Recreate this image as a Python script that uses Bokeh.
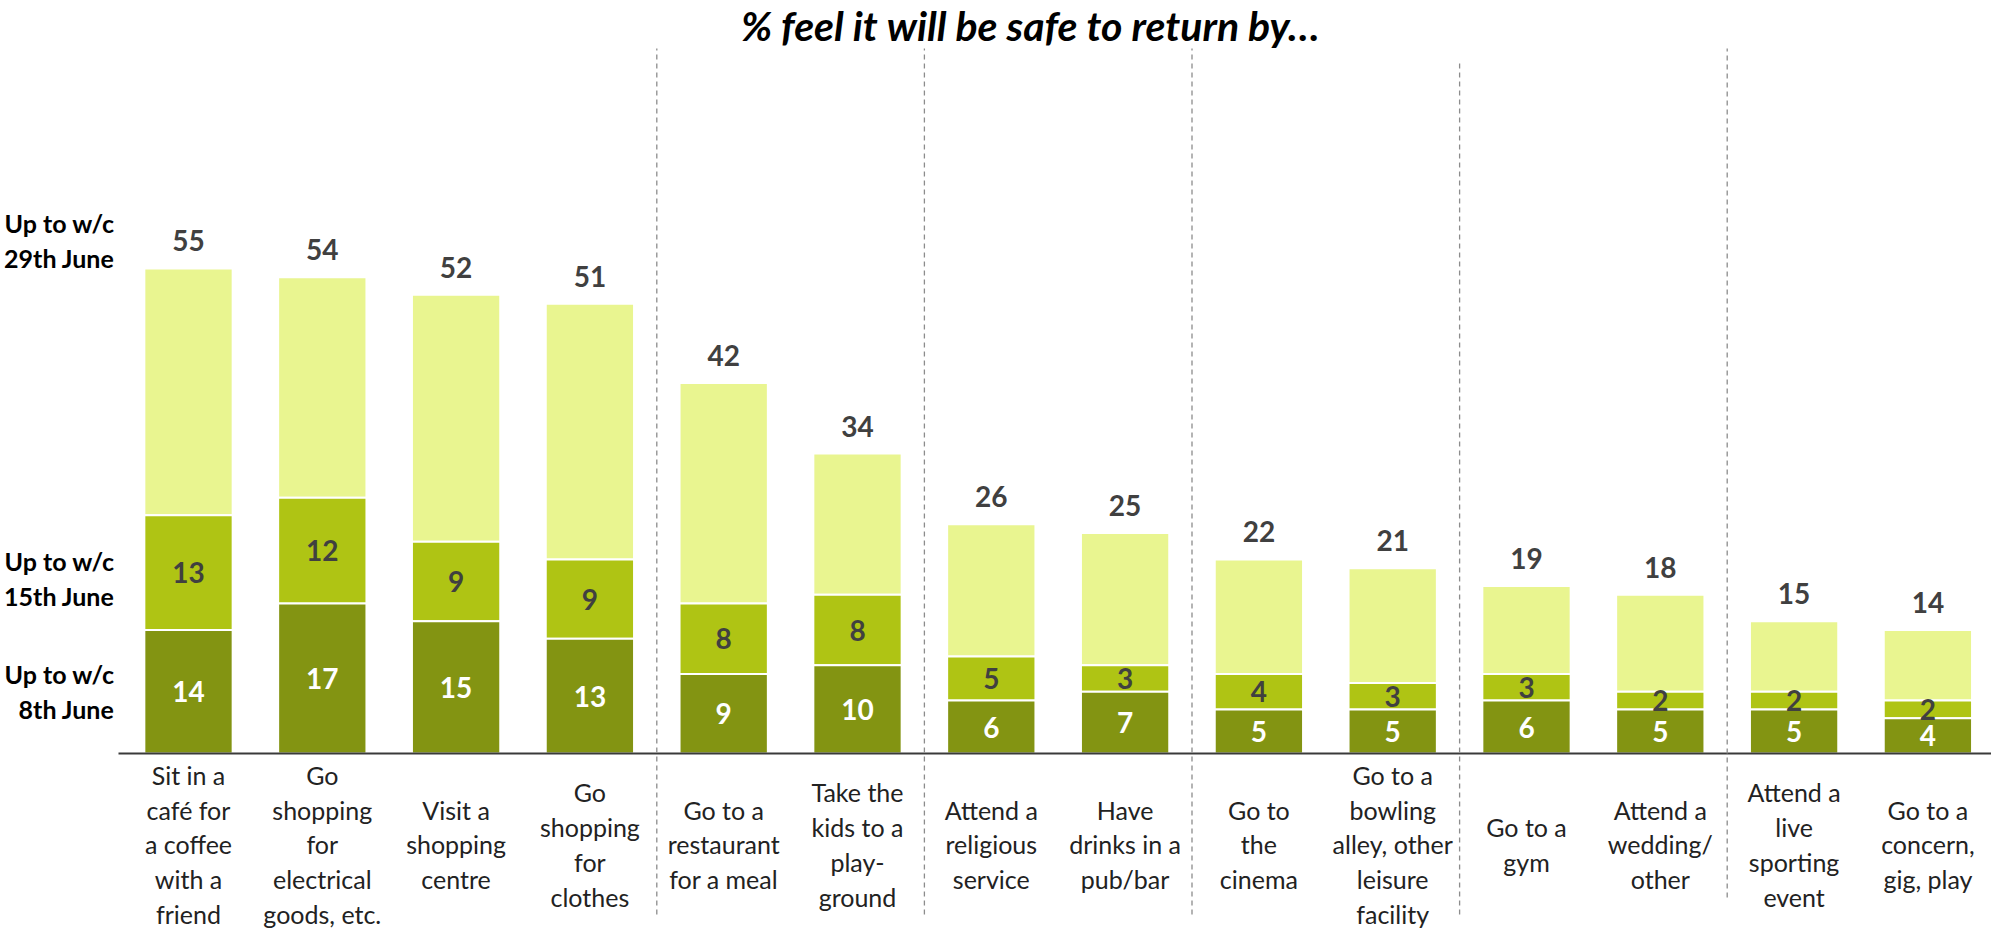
from bokeh.plotting import figure
from bokeh.models import ColumnDataSource, Range1d
from bokeh.core.properties import value
from bokeh.embed import file_html
from bokeh.resources import INLINE

# ---------------- data ----------------
categories = [
    "Sit in a\ncafé for\na coffee\nwith a\nfriend",
    "Go\nshopping\nfor\nelectrical\ngoods, etc.",
    "Visit a\nshopping\ncentre",
    "Go\nshopping\nfor\nclothes",
    "Go to a\nrestaurant\nfor a meal",
    "Take the\nkids to a\nplay-\nground",
    "Attend a\nreligious\nservice",
    "Have\ndrinks in a\npub/bar",
    "Go to\nthe\ncinema",
    "Go to a\nbowling\nalley, other\nleisure\nfacility",
    "Go to a\ngym",
    "Attend a\nwedding/\nother",
    "Attend a\nlive\nsporting\nevent",
    "Go to a\nconcern,\ngig, play",
]
wc_8th_june = [14, 17, 15, 13, 9, 10, 6, 7, 5, 5, 6, 5, 5, 4]
wc_15th_june_added = [13, 12, 9, 9, 8, 8, 5, 3, 4, 3, 3, 2, 2, 2]
wc_29th_june_total = [55, 54, 52, 51, 42, 34, 26, 25, 22, 21, 19, 18, 15, 14]
group_boundaries = [3.5, 5.5, 7.5, 9.5, 11.5]
row_labels = ["Up to w/c\n29th June", "Up to w/c\n15th June", "Up to w/c\n8th June"]
title_text = "% feel it will be safe to return by…"

# ---------------- layout constants ----------------
W, H = 1991, 930
X0_PX, STEP_PX = 188.0, 133.8      # centre of first bar, spacing per category
Y0_PX, UNIT_PX = 753.0, 8.82       # baseline pixel, pixels per percentage point

def ypx(px):
    return (Y0_PX - px) / UNIT_PX

def xpx(px):
    return (px - X0_PX) / STEP_PX

DARK, MID, LIGHT = "#839412", "#AFC414", "#E9F590"
FONT = "Lato"

n = len(categories)
xs = list(range(n))
top1 = wc_8th_june
top2 = [a + b for a, b in zip(wc_8th_june, wc_15th_june_added)]

src = ColumnDataSource(dict(
    x=xs, b0=[0] * n, t1=top1, t2=top2, t3=wc_29th_june_total,
    m1=[t / 2 for t in top1],
    m2=[(a + b) / 2 for a, b in zip(top1, top2)],
    l1=[str(v) for v in wc_8th_june],
    l2=[str(v) for v in wc_15th_june_added],
    l3=[str(v) for v in wc_29th_june_total],
    cat=categories,
))

p = figure(width=W, height=H, output_backend="svg", toolbar_location=None,
           x_range=Range1d(xpx(0), xpx(W)), y_range=Range1d(ypx(H), ypx(0)),
           x_axis_type=None, y_axis_type=None, min_border=0)
p.outline_line_color = None
p.xgrid.visible = False
p.ygrid.visible = False
p.background_fill_color = "white"

BW = 0.66
p.vbar(x="x", bottom="t2", top="t3", width=BW, source=src,
       fill_color=LIGHT, line_color="white", line_width=2)
p.vbar(x="x", bottom="t1", top="t2", width=BW, source=src,
       fill_color=MID, line_color="white", line_width=2)
p.vbar(x="x", bottom="b0", top="t1", width=BW, source=src,
       fill_color=DARK, line_color="white", line_width=2)

# value labels
p.text(x="x", y="m1", text="l1", source=src, text_align="center",
       text_baseline="middle", text_color="white", text_font=value(FONT),
       text_font_style="bold", text_font_size="28px")
p.text(x="x", y="m2", text="l2", source=src, text_align="center",
       text_baseline="middle", text_color="#404040", text_font=value(FONT),
       text_font_style="bold", text_font_size="28px")
p.text(x="x", y="t3", text="l3", source=src, text_align="center",
       text_baseline="bottom", y_offset=-17, text_color="#404040",
       text_font=value(FONT), text_font_style="bold", text_font_size="28px")

# baseline
p.segment(x0=[xpx(118)], y0=[0], x1=[xpx(W + 5)], y1=[0],
          line_color="#3a3a3a", line_width=2)

# dashed group separators
tops = [ypx(48), ypx(48), ypx(48), ypx(61), ypx(48)]
bots = [ypx(914), ypx(914), ypx(914), ypx(914), ypx(897)]
p.segment(x0=group_boundaries, y0=bots, x1=group_boundaries, y1=tops,
          line_color="#8c8c8c", line_width=1.3, line_dash="5 4")

# category labels
p.text(x="x", y=ypx(844), text="cat", source=src, text_align="center",
       text_baseline="middle", text_color="#222222", text_font=value(FONT),
       text_font_size="25px", text_line_height=1.16)

# row labels (left)
p.text(x=[xpx(114)] * 3, y=[ypx(240), ypx(578), ypx(691)], text=row_labels,
       text_align="right", text_baseline="middle", text_color="black",
       text_font=value(FONT), text_font_style="bold", text_font_size="25px",
       text_line_height=1.17)

# title
p.text(x=[xpx(1030)], y=[ypx(25)], text=[title_text], text_align="center",
       text_baseline="middle", text_color="black", text_font=value(FONT),
       text_font_style="bold italic", text_font_size="41px")

open("out.html", "w").write(file_html(p, INLINE))
